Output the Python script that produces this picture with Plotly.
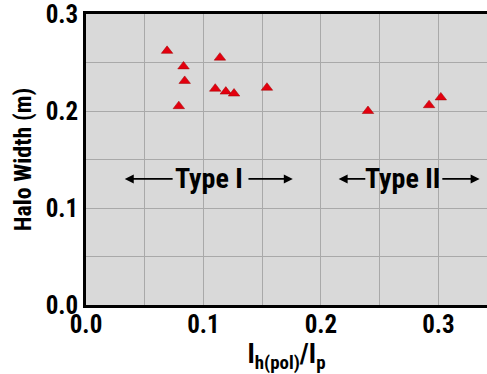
import plotly.graph_objects as go

current_ratio = [0.069, 0.083, 0.084, 0.079, 0.110, 0.114, 0.119, 0.126, 0.154, 0.240, 0.292, 0.302]
halo_width = [0.262, 0.246, 0.231, 0.205, 0.223, 0.255, 0.220, 0.218, 0.224, 0.200, 0.206, 0.214]

x_ticks = [0.0, 0.1, 0.2, 0.3]
y_ticks = [0.0, 0.1, 0.2, 0.3]
type_labels = ["Type I", "Type II"]

FONT = "Roboto Condensed, Liberation Sans Narrow, Open Sans Condensed, Liberation Sans, Arial, sans-serif"

fig = go.Figure()
fig.add_trace(go.Scatter(
    x=current_ratio, y=halo_width, mode="markers",
    marker=dict(symbol="triangle-up", size=10, color="#e3000f",
                line=dict(color="#a00000", width=0.5)),
    showlegend=False,
))

# Type labels with arrows
label_cfg = [
    # text, center, left text edge, left arrow tip, right text edge, right arrow tip
    (type_labels[0], 0.1047, 0.075, 0.033, 0.137, 0.176),
    (type_labels[1], 0.2694, 0.239, 0.215, 0.302, 0.335),
]
y_lab = 0.130
for text, cx, lx, ltip, rx, rtip in label_cfg:
    fig.add_annotation(x=cx, y=y_lab, xref="x", yref="y", text="<b>%s</b>" % text,
                       showarrow=False, font=dict(family=FONT, size=28, color="black"))
    for start, tip in ((lx, ltip), (rx, rtip)):
        fig.add_annotation(x=tip, y=y_lab, ax=start, ay=y_lab, xref="x", yref="y",
                           axref="x", ayref="y", text="", showarrow=True,
                           arrowhead=2, arrowsize=1, arrowwidth=1.8, arrowcolor="black")

axis_common = dict(
    showgrid=True, gridcolor="#a9a9a9", gridwidth=1,
    showline=True, linecolor="black", linewidth=2.5,
    ticks="", zeroline=False, ticklabeloverflow="allow", automargin=False,
    tickfont=dict(family=FONT, size=25, color="black"),
    minor=dict(dtick=0.05, showgrid=True, gridcolor="#a9a9a9", gridwidth=1),
)

fig.update_xaxes(range=[0, 0.3413], tickvals=x_ticks, ticktext=["<b>%.1f</b>" % v for v in x_ticks],
                 mirror=True, ticklabelstandoff=-5,
                 title=dict(text="<b>I<sub>h(pol)</sub>/I<sub>p</sub></b>",
                            font=dict(family=FONT, size=27, color="black"), standoff=0),
                 **axis_common)
fig.update_yaxes(range=[0, 0.3], tickvals=y_ticks, ticktext=["<b>%.1f</b>" % v for v in y_ticks],
                 mirror=False, ticklabelstandoff=0,
                 title=dict(text="<b>Halo Width (m)</b>",
                            font=dict(family=FONT, size=24, color="black"), standoff=8),
                 **axis_common)

fig.update_layout(
    width=487, height=374,
    margin=dict(l=86, r=0, t=14, b=69),
    plot_bgcolor="#d9d9d9", paper_bgcolor="white",
)

# remove the default page margin so the figure sits at the window's top-left corner
fig.write_html("out.html", config={"displayModeBar": False},
               post_script="document.body.style.margin='0';document.body.style.overflow='hidden';")
